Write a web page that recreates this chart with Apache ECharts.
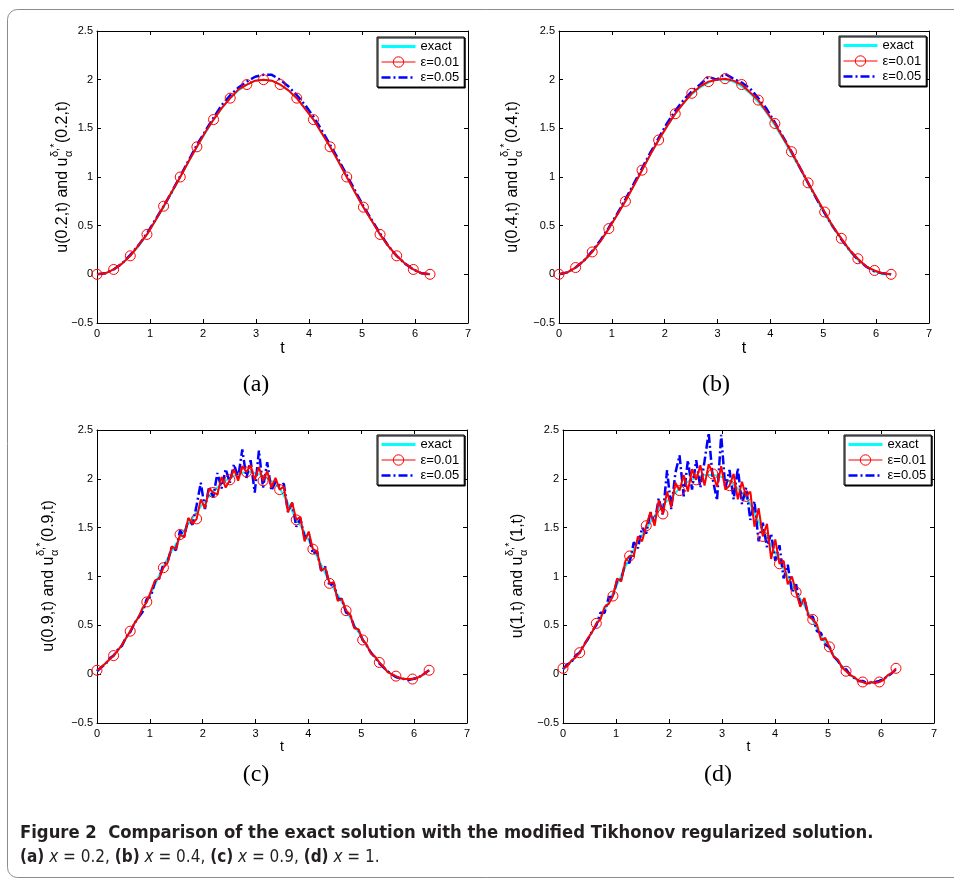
<!DOCTYPE html>
<html><head><meta charset="utf-8">
<script src="https://cdn.jsdelivr.net/npm/echarts@6/dist/echarts.min.js"></script>
<style>html,body{margin:0;padding:0;background:#fff}#c{width:954px;height:881px}</style>
</head><body><div id="c"></div>
<script>
// ---------- data (t runs from 0 to 2π; arrays are equally spaced samples) ----------
const seriesNames = ['exact', 'ε=0.01', 'ε=0.05'];
const panelLetters = ['(a)', '(b)', '(c)', '(d)'];
const panelX = ['0.2', '0.4', '0.9', '1'];
const xTickMin = 0, xTickMax = 7, xTickStep = 1;
const yTickMin = -0.5, yTickMax = 2.5, yTickStep = 0.5;

// (a) x = 0.2 — 41 samples
const exactA = [0,0.01,0.05,0.11,0.19,0.29,0.41,0.55,0.69,0.84,1.00,1.16,1.31,1.45,1.59,1.71,1.81,1.89,1.95,1.99,2.00,1.99,1.95,1.89,1.81,1.71,1.59,1.45,1.31,1.16,1.00,0.84,0.69,0.55,0.41,0.29,0.19,0.11,0.05,0.01,0.00];
const eps01A = [0,0.01,0.05,0.11,0.19,0.30,0.41,0.55,0.70,0.85,1.00,1.16,1.31,1.46,1.59,1.71,1.81,1.90,1.95,1.99,2.00,1.99,1.95,1.89,1.81,1.70,1.59,1.45,1.31,1.16,1.00,0.84,0.69,0.55,0.41,0.29,0.19,0.11,0.05,0.01,0.00];
const eps05A = [0,0.01,0.05,0.11,0.20,0.30,0.42,0.56,0.70,0.85,1.01,1.17,1.33,1.47,1.61,1.74,1.84,1.92,1.98,2.03,2.05,2.05,2.00,1.93,1.84,1.74,1.62,1.48,1.33,1.18,1.02,0.86,0.70,0.56,0.42,0.29,0.19,0.11,0.05,0.01,0.00];

// (b) x = 0.4 — 41 samples
const exactB = [0,0.02,0.07,0.14,0.23,0.34,0.47,0.61,0.76,0.91,1.07,1.23,1.38,1.52,1.65,1.76,1.85,1.92,1.97,2.00,2.00,1.98,1.93,1.86,1.77,1.66,1.53,1.39,1.24,1.09,0.93,0.78,0.62,0.48,0.36,0.24,0.15,0.08,0.03,0.00,0.00];
const eps01B = [0,0.02,0.07,0.14,0.23,0.34,0.47,0.61,0.75,0.91,1.07,1.23,1.38,1.52,1.65,1.76,1.86,1.93,1.98,2.00,2.01,1.99,1.95,1.87,1.79,1.67,1.55,1.40,1.26,1.10,0.94,0.79,0.64,0.49,0.37,0.25,0.16,0.08,0.04,0.01,0.00];
const eps05B = [0,0.02,0.07,0.14,0.24,0.35,0.48,0.62,0.77,0.93,1.09,1.25,1.40,1.55,1.68,1.79,1.88,1.95,2.03,2.00,2.06,2.01,1.97,1.91,1.81,1.70,1.56,1.41,1.26,1.10,0.94,0.78,0.63,0.49,0.36,0.25,0.15,0.08,0.03,0.01,0.00];

// (c) x = 0.9 — exact 41 samples, noisy 81 samples
const exactC = [0.03,0.11,0.19,0.30,0.44,0.59,0.74,0.92,1.10,1.26,1.40,1.54,1.66,1.77,1.87,1.95,2.01,2.05,2.07,2.06,2.03,1.98,1.90,1.75,1.59,1.45,1.29,1.12,0.95,0.81,0.66,0.50,0.36,0.22,0.12,0.03,-0.03,-0.05,-0.05,-0.02,0.04];
const eps01C = [0.04,0.07,0.11,0.15,0.19,0.24,0.30,0.37,0.44,0.52,0.58,0.68,0.74,0.85,0.96,0.98,1.09,1.14,1.31,1.28,1.43,1.40,1.60,1.54,1.59,1.79,1.70,1.90,1.86,1.84,2.02,1.91,1.99,2.10,1.98,2.13,2.07,2.14,1.99,2.12,1.98,2.08,1.91,2.01,1.89,1.92,1.66,1.76,1.58,1.61,1.36,1.46,1.28,1.26,1.06,1.09,0.93,0.94,0.75,0.77,0.65,0.61,0.47,0.46,0.35,0.30,0.21,0.18,0.12,0.08,0.02,0.00,-0.02,-0.04,-0.05,-0.05,-0.05,-0.04,-0.02,0.01,0.04];
const eps05C = [0.03,0.07,0.10,0.16,0.19,0.25,0.29,0.38,0.43,0.52,0.58,0.64,0.77,0.80,0.95,0.98,1.13,1.15,1.30,1.27,1.47,1.41,1.59,1.53,1.73,1.96,1.69,1.92,1.81,2.06,1.90,2.10,1.96,2.15,2.01,2.30,2.01,2.19,1.86,2.29,1.91,2.17,1.88,1.97,1.93,1.95,1.66,1.75,1.51,1.59,1.40,1.44,1.23,1.26,1.06,1.10,0.90,0.94,0.77,0.77,0.63,0.61,0.48,0.45,0.35,0.29,0.22,0.17,0.11,0.07,0.03,0.00,-0.03,-0.04,-0.05,-0.06,-0.05,-0.04,-0.02,0.01,0.04];

// (d) x = 1 — exact 41 samples, noisy 81 samples
const exactD = [0.05,0.13,0.23,0.36,0.51,0.66,0.83,1.01,1.19,1.35,1.49,1.62,1.73,1.81,1.90,1.97,2.01,2.04,2.04,2.02,1.97,1.90,1.81,1.65,1.47,1.32,1.16,1.00,0.84,0.70,0.55,0.39,0.26,0.13,0.04,-0.04,-0.08,-0.09,-0.07,-0.02,0.05];
const eps01D = [0.06,0.08,0.14,0.17,0.22,0.29,0.37,0.43,0.52,0.56,0.69,0.72,0.80,0.98,0.95,1.16,1.21,1.21,1.41,1.36,1.52,1.66,1.52,1.78,1.64,1.87,1.71,1.96,1.88,2.04,1.87,2.10,1.99,2.14,1.93,2.15,2.05,1.92,2.13,1.89,1.93,2.05,1.79,1.97,1.82,1.87,1.51,1.70,1.41,1.54,1.18,1.38,1.13,1.16,0.92,1.00,0.84,0.69,0.78,0.59,0.56,0.51,0.35,0.37,0.28,0.18,0.15,0.07,0.03,-0.01,-0.03,-0.07,-0.08,-0.10,-0.08,-0.09,-0.08,-0.06,-0.01,0.01,0.06];
const eps05D = [0.05,0.10,0.12,0.19,0.22,0.30,0.36,0.44,0.50,0.63,0.63,0.79,0.79,0.96,0.97,1.15,1.14,1.35,1.29,1.50,1.44,1.66,1.55,1.80,1.63,2.09,1.69,2.06,2.24,1.82,2.19,1.89,2.19,1.91,2.18,2.47,1.99,1.78,2.45,1.90,2.09,1.79,2.11,1.74,1.91,1.58,1.77,1.36,1.55,1.30,1.44,1.16,1.32,0.98,1.12,0.84,0.92,0.71,0.77,0.58,0.59,0.44,0.42,0.30,0.28,0.18,0.14,0.07,0.05,-0.01,-0.04,-0.07,-0.07,-0.09,-0.09,-0.08,-0.07,-0.05,-0.02,0.01,0.05];

// ---------- layout ----------
const FONT = '"Liberation Sans", Arial, sans-serif';
const panels = [
  {grid:{left:97, top:31, width:371, height:292}, legend:{left:377, top:37}, yl:{x:63, y:177}, letter:{x:256, y:385}, d:[exactA, eps01A, eps05A], nameSize:16, nameGap:18},
  {grid:{left:559, top:31, width:370, height:292}, legend:{left:839, top:36}, yl:{x:513, y:177}, letter:{x:716, y:385}, d:[exactB, eps01B, eps05B], nameSize:16, nameGap:18},
  {grid:{left:97, top:430, width:370, height:293}, legend:{left:377, top:435}, yl:{x:49, y:576}, letter:{x:256, y:775}, d:[exactC, eps01C, eps05C], nameSize:14, nameGap:14},
  {grid:{left:563, top:430, width:371, height:293}, legend:{left:844, top:435}, yl:{x:518, y:576}, letter:{x:718, y:775}, d:[exactD, eps01D, eps05D], nameSize:14, nameGap:14}
];

function pairs(vals) {
  const n = vals.length;
  return vals.map((v, i) => [i * 2 * Math.PI / (n - 1), v]);
}
const fmtY = v => (v < 0 ? '\u2212' + Math.abs(v) : String(v));

const measureCtx = document.createElement('canvas').getContext('2d');
function textW(s, font) { measureCtx.font = font; return measureCtx.measureText(s).width; }

const grids = [], xAxes = [], yAxes = [], series = [], legends = [], graphics = [];
panels.forEach((p, k) => {
  grids.push(Object.assign({outerBoundsMode: 'none', containLabel: false}, p.grid));
  const axLine = {show: true, onZero: false, lineStyle: {color: '#000', width: 1}};
  const tick = {show: true, inside: true, length: 4, lineStyle: {color: '#000', width: 1}};
  xAxes.push({type: 'value', gridIndex: k, position: 'bottom', min: xTickMin, max: xTickMax, interval: xTickStep,
    axisLine: axLine, axisTick: tick, splitLine: {show: false},
    axisLabel: {color: '#000', fontSize: 11, fontFamily: FONT, margin: 5},
    name: 't', nameLocation: 'middle', nameGap: p.nameGap,
    nameTextStyle: {color: '#000', fontSize: p.nameSize, fontFamily: FONT}});
  xAxes.push({type: 'value', gridIndex: k, position: 'top', min: xTickMin, max: xTickMax, interval: xTickStep,
    axisLine: axLine, axisTick: tick, splitLine: {show: false}, axisLabel: {show: false}});
  yAxes.push({type: 'value', gridIndex: k, position: 'left', min: yTickMin, max: yTickMax, interval: yTickStep,
    axisLine: axLine, axisTick: tick, splitLine: {show: false},
    axisLabel: {color: '#000', fontSize: 11, fontFamily: FONT, margin: 4, formatter: fmtY}});
  yAxes.push({type: 'value', gridIndex: k, position: 'right', min: yTickMin, max: yTickMax, interval: yTickStep,
    axisLine: axLine, axisTick: tick, splitLine: {show: false}, axisLabel: {show: false}});

  const [ex, e1, e5] = p.d;
  const common = {type: 'line', xAxisIndex: 2 * k, yAxisIndex: 2 * k, animation: false, silent: true};
  series.push(Object.assign({}, common, {name: seriesNames[0], data: pairs(ex), symbol: 'circle', showSymbol: false,
    smooth: k >= 2 ? 0.3 : false, lineStyle: {color: '#00FFFF', width: 2}, itemStyle: {color: '#00FFFF'}, z: 2}));
  series.push(Object.assign({}, common, {name: seriesNames[2], data: pairs(e5), symbol: 'circle', showSymbol: false,
    lineStyle: {color: '#0000FF', width: 2.5, type: [9, 3, 2, 3]}, itemStyle: {color: '#0000FF'}, z: 3}));
  const every = (e1.length - 1) / 20;
  series.push(Object.assign({}, common, {name: seriesNames[1],
    data: pairs(e1).map((pt, i) => i % every === 0 ? pt : {value: pt, symbol: 'none'}),
    symbol: 'circle', symbolSize: 10, showSymbol: true, showAllSymbol: true,
    lineStyle: {color: '#FF0000', width: 2},
    itemStyle: {color: 'rgba(255,0,0,0)', borderColor: '#FF0000', borderWidth: 1}, z: 4}));

  legends.push({left: p.legend.left, top: p.legend.top, orient: 'vertical', selectedMode: false,
    itemWidth: 34, itemHeight: 13, itemGap: 2.5, padding: [3, 5, 3, 3],
    borderColor: '#000', borderWidth: 1, backgroundColor: '#fff',
    shadowColor: '#000', shadowOffsetX: 1, shadowOffsetY: 1, shadowBlur: 0,
    textStyle: {color: '#000', fontSize: 13, fontFamily: FONT},
    data: [
      {name: seriesNames[0], itemStyle: {color: 'rgba(0,0,0,0)', borderWidth: 0}, lineStyle: {width: 3}},
      {name: seriesNames[1], itemStyle: {color: 'rgba(255,255,255,0)', borderColor: '#FF0000', borderWidth: 1}, lineStyle: {width: 1}},
      {name: seriesNames[2], itemStyle: {color: 'rgba(0,0,0,0)', borderWidth: 0}, lineStyle: {width: 2.5}}
    ]});

  // y-axis label: u(x,t) and u^{δ,*}_α(x,t), rotated
  const mainF = '16px ' + FONT, smallF = '11px ' + FONT;
  const s1 = 'u(' + panelX[k] + ',t) and u', s4 = '(' + panelX[k] + ',t)';
  const w1 = textW(s1, mainF), w2 = textW('δ,*', smallF), w4 = textW(s4, mainF);
  const W = w1 + w2 + 1 + w4, x0 = -W / 2;
  graphics.push({type: 'group', x: p.yl.x, y: p.yl.y, rotation: Math.PI / 2, silent: true, children: [
    {type: 'text', x: x0, y: 0, style: {text: s1, font: mainF, fill: '#000', align: 'left', verticalAlign: 'middle'}},
    {type: 'text', x: x0 + w1 + 0.5, y: -8, style: {text: 'δ,*', font: smallF, fill: '#000', align: 'left', verticalAlign: 'middle'}},
    {type: 'text', x: x0 + w1 + 0.5, y: 6, style: {text: 'α', font: smallF, fill: '#000', align: 'left', verticalAlign: 'middle'}},
    {type: 'text', x: x0 + w1 + w2 + 1, y: 0, style: {text: s4, font: mainF, fill: '#000', align: 'left', verticalAlign: 'middle'}}
  ]});
  graphics.push({type: 'text', x: p.letter.x, y: p.letter.y, silent: true,
    style: {text: panelLetters[k], font: '24px "Liberation Serif", serif', fill: '#000', align: 'center', verticalAlign: 'middle'}});
});

const CAP = '"Liberation Sans Narrow", "DejaVu Sans Condensed", "Liberation Sans", sans-serif';
graphics.push({type: 'rect', silent: true, z: -10, shape: {x: 7.5, y: 9.5, width: 980, height: 868, r: 10},
  style: {fill: 'none', stroke: '#8c8c8c', lineWidth: 1}});
graphics.push({type: 'text', x: 20, y: 833, silent: true,
  style: {text: 'Figure 2  Comparison of the exact solution with the modified Tikhonov regularized solution.',
    font: 'bold 18.3px ' + CAP, fill: '#231f20', align: 'left', verticalAlign: 'middle'}});
graphics.push({type: 'text', x: 20, y: 858, silent: true,
  style: {text: '{b|(a)} {i|x} = 0.2, {b|(b)} {i|x} = 0.4, {b|(c)} {i|x} = 0.9, {b|(d)} {i|x} = 1.',
    font: '17px ' + CAP, fill: '#231f20', align: 'left', verticalAlign: 'middle',
    rich: {b: {fontWeight: 'bold', fontSize: 17, fontFamily: CAP, fill: '#231f20'},
           i: {fontStyle: 'italic', fontSize: 17, fontFamily: CAP, fill: '#231f20'}}}});

const chart = echarts.init(document.getElementById('c'), null, {renderer: 'canvas'});
chart.setOption({
  backgroundColor: '#fff', animation: false,
  textStyle: {fontFamily: FONT},
  grid: grids, xAxis: xAxes, yAxis: yAxes, series: series, legend: legends, graphic: graphics
});
</script></body></html>
